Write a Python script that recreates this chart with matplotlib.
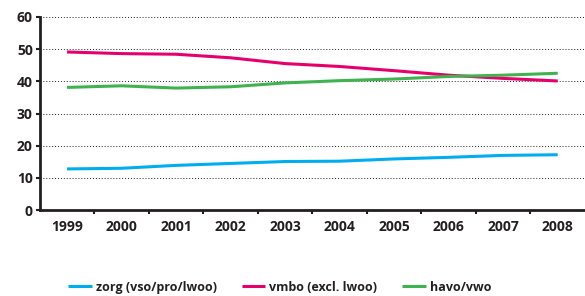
import matplotlib.pyplot as plt
from matplotlib.ticker import MultipleLocator

plt.rcParams['font.family'] = ['Open Sans', 'DejaVu Sans']

years = ["1999", "2000", "2001", "2002", "2003", "2004", "2005", "2006", "2007", "2008"]
zorg = [12.8, 13.0, 13.9, 14.5, 15.1, 15.2, 15.9, 16.4, 17.0, 17.2]
vmbo = [49.1, 48.6, 48.4, 47.3, 45.5, 44.6, 43.3, 41.9, 40.9, 40.1]
havo = [38.1, 38.6, 37.9, 38.3, 39.5, 40.2, 40.7, 41.5, 41.9, 42.5]
labels = ["zorg (vso/pro/lwoo)", "vmbo (excl. lwoo)", "havo/vwo"]
colors = ["#00aeef", "#e5006d", "#3fb34f"]

dark = "#231f20"

fig = plt.figure(figsize=(5.85, 2.96), dpi=100)
ax = fig.add_axes([0.068, 0.29, 0.932, 0.653])

x = range(len(years))
for series, lab, col in zip([zorg, vmbo, havo], labels, colors):
    ax.plot(x, series, color=col, linewidth=2.2, label=lab, solid_capstyle="butt")

ax.set_xlim(-0.5, len(years) - 0.5)
ax.set_ylim(0, 60)
ax.yaxis.set_major_locator(MultipleLocator(10))
ax.set_xticks(list(x))
ax.set_xticklabels(years)
ax.set_xticks([i + 0.5 for i in range(len(years) - 1)], minor=True)
ax.tick_params(axis="x", which="major", length=0, pad=7)
ax.tick_params(axis="x", which="minor", length=3, width=1.5, color=dark, direction="out")
ax.tick_params(axis="y", length=3, width=1.5, color=dark, pad=2)
for t in ax.get_xticklabels() + ax.get_yticklabels():
    t.set_fontweight("bold")
    t.set_fontsize(10)
    t.set_color(dark)

ax.grid(axis="y", linestyle=(0, (1, 2)), color=dark, linewidth=0.7)
ax.set_axisbelow(True)
for s in ["top", "right"]:
    ax.spines[s].set_visible(False)
for s in ["left", "bottom"]:
    ax.spines[s].set_color(dark)
    ax.spines[s].set_linewidth(2)

leg = fig.legend(loc="lower center", ncol=3, frameon=False, bbox_to_anchor=(0.478, -0.03),
                 handlelength=1.9, handletextpad=0.3, columnspacing=2.0,
                 prop={"weight": "bold", "size": 9})
for t in leg.get_texts():
    t.set_color(dark)

fig.savefig("out.png", dpi=100)
